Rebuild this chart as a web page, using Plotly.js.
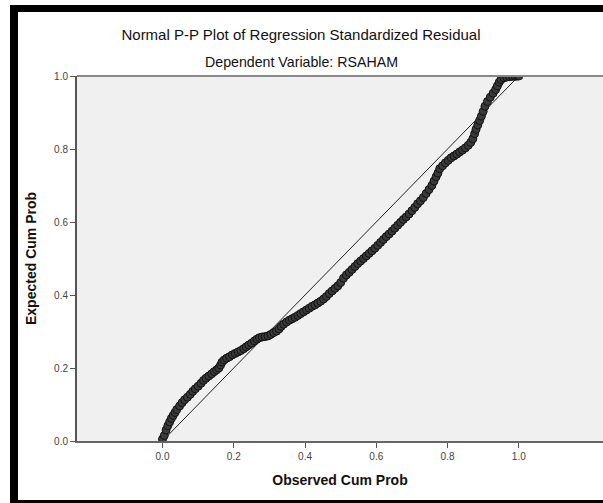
<!DOCTYPE html>
<html>
<head>
<meta charset="utf-8">
<script src="https://cdn.plot.ly/plotly-3.0.1.min.js"></script>
<style>
html,body{margin:0;padding:0;background:#fff;overflow:hidden;}
#chart{width:603px;height:503px;}
</style>
</head>
<body>
<div id="chart"></div>
<script>
// Observed cumulative probability (x) and expected cumulative probability (y)
const observedCumProb = [
0.000,0.005,0.010,0.015,0.020,0.025,0.030,0.035,0.040,0.048,
0.055,0.062,0.070,0.078,0.085,0.092,0.100,0.108,0.115,0.122,
0.130,0.138,0.145,0.152,0.158,0.163,0.167,0.173,0.180,0.188,
0.196,0.204,0.212,0.220,0.228,0.235,0.242,0.250,0.258,0.265,
0.272,0.280,0.288,0.296,0.304,0.312,0.320,0.327,0.333,0.340,
0.348,0.356,0.364,0.372,0.380,0.388,0.396,0.404,0.412,0.420,
0.428,0.436,0.444,0.452,0.460,0.468,0.476,0.484,0.492,0.500,
0.508,0.516,0.524,0.532,0.540,0.548,0.556,0.564,0.572,0.580,
0.588,0.596,0.604,0.612,0.620,0.628,0.636,0.644,0.652,0.660,
0.668,0.676,0.684,0.692,0.700,0.708,0.716,0.724,0.732,0.740,
0.748,0.756,0.762,0.768,0.773,0.778,0.786,0.794,0.802,0.810,
0.818,0.826,0.834,0.842,0.850,0.858,0.865,0.871,0.876,0.880,
0.885,0.890,0.895,0.900,0.905,0.912,0.920,0.928,0.935,0.940,
0.945,0.950,0.958,0.966,0.974,0.982,0.990,0.996,1.000
];
const expectedCumProb = [
0.005,0.015,0.030,0.042,0.052,0.062,0.070,0.078,0.086,0.096,
0.105,0.113,0.120,0.128,0.136,0.143,0.150,0.158,0.166,0.172,
0.178,0.184,0.190,0.195,0.200,0.208,0.216,0.222,0.227,0.231,
0.236,0.240,0.244,0.248,0.253,0.258,0.263,0.268,0.274,0.279,
0.283,0.285,0.286,0.288,0.292,0.297,0.301,0.307,0.314,0.320,
0.326,0.331,0.335,0.339,0.344,0.349,0.354,0.359,0.364,0.369,
0.373,0.378,0.383,0.389,0.396,0.404,0.411,0.418,0.425,0.434,
0.446,0.455,0.462,0.470,0.478,0.486,0.493,0.500,0.507,0.514,
0.521,0.528,0.536,0.544,0.552,0.560,0.567,0.575,0.583,0.591,
0.599,0.607,0.614,0.622,0.631,0.640,0.650,0.658,0.667,0.678,
0.689,0.700,0.712,0.724,0.734,0.746,0.754,0.762,0.769,0.776,
0.781,0.786,0.792,0.797,0.803,0.810,0.818,0.828,0.842,0.854,
0.866,0.878,0.890,0.903,0.917,0.930,0.942,0.953,0.963,0.973,
0.983,0.990,0.995,0.997,0.998,0.999,0.999,1.000,1.000
];
// Reference (normal) line
const refX = [0, 1];
const refY = [0, 1];
const tickVals = [0, 0.2, 0.4, 0.6, 0.8, 1.0];
const tickText = ['0.0', '0.2', '0.4', '0.6', '0.8', '1.0'];

const F = 'Liberation Sans, Arial, sans-serif';

// frame helpers (pixel -> paper)
const W = 603, H = 503;
const L = 77, T = 76, PW = 526, PH = 365;
const px = v => (v - L) / PW;
const py = v => (T + PH - v) / PH;

const traces = [
  {
    x: refX, y: refY, type: 'scatter', mode: 'lines',
    line: {color: '#222', width: 1}, hoverinfo: 'skip', showlegend: false
  },
  {
    x: observedCumProb, y: expectedCumProb, type: 'scatter', mode: 'markers',
    marker: {symbol: 'circle', size: 8, color: '#3a3a3a', line: {color: '#111', width: 1}},
    showlegend: false
  }
];

const layout = {
  width: W, height: H,
  margin: {l: L, r: W - L - PW, t: T, b: H - T - PH},
  paper_bgcolor: '#ffffff',
  plot_bgcolor: '#f0f0f0',
  showlegend: false,
  title: {
    text: 'Normal P-P Plot of Regression Standardized Residual',
    font: {family: F, size: 15, color: '#111'},
    xref: 'paper', x: px(301), xanchor: 'center',
    yref: 'container', y: 1 - 35 / 503, yanchor: 'middle'
  },
  annotations: [{
    text: 'Dependent Variable: RSAHAM',
    xref: 'paper', yref: 'paper',
    x: px(301.5), y: py(62), xanchor: 'center', yanchor: 'middle',
    showarrow: false, font: {family: F, size: 14.2, color: '#111'}
  }],
  xaxis: {
    range: [-0.24, -0.24 + PW / 356.3],
    tickvals: tickVals, ticktext: tickText,
    ticks: 'outside', ticklen: 5, tickwidth: 1, tickcolor: '#555',
    showline: true, linecolor: '#666', linewidth: 2, mirror: false,
    showgrid: false, zeroline: false,
    tickfont: {family: F, size: 10, color: '#444'},
    title: {text: 'Observed Cum Prob', font: {family: F, size: 14, color: '#111', weight: 'bold'}, standoff: 14}
  },
  yaxis: {
    range: [0, 1],
    tickvals: tickVals, ticktext: tickText,
    ticks: 'outside', ticklen: 5, tickwidth: 1, tickcolor: '#555',
    showline: true, linecolor: '#555', linewidth: 2, mirror: false,
    showgrid: false, zeroline: false,
    tickfont: {family: F, size: 10, color: '#444'},
    title: {text: 'Expected Cum Prob', font: {family: F, size: 14, color: '#111', weight: 'bold'}, standoff: 14}
  },
  shapes: [
    {type: 'line', xref: 'paper', yref: 'paper', x0: 0, x1: 1, y0: 1, y1: 1, line: {color: '#888', width: 2}},
    {type: 'rect', xref: 'paper', yref: 'paper', x0: px(10), x1: px(604), y0: py(12), y1: py(5), fillcolor: '#000', line: {width: 0}},
    {type: 'rect', xref: 'paper', yref: 'paper', x0: px(10), x1: px(18), y0: py(503), y1: py(5), fillcolor: '#000', line: {width: 0}},
    {type: 'rect', xref: 'paper', yref: 'paper', x0: px(10), x1: px(604), y0: py(503), y1: py(500), fillcolor: '#000', line: {width: 0}}
  ]
};

Plotly.newPlot('chart', traces, layout, {displayModeBar: false, staticPlot: true});
</script>
</body>
</html>
